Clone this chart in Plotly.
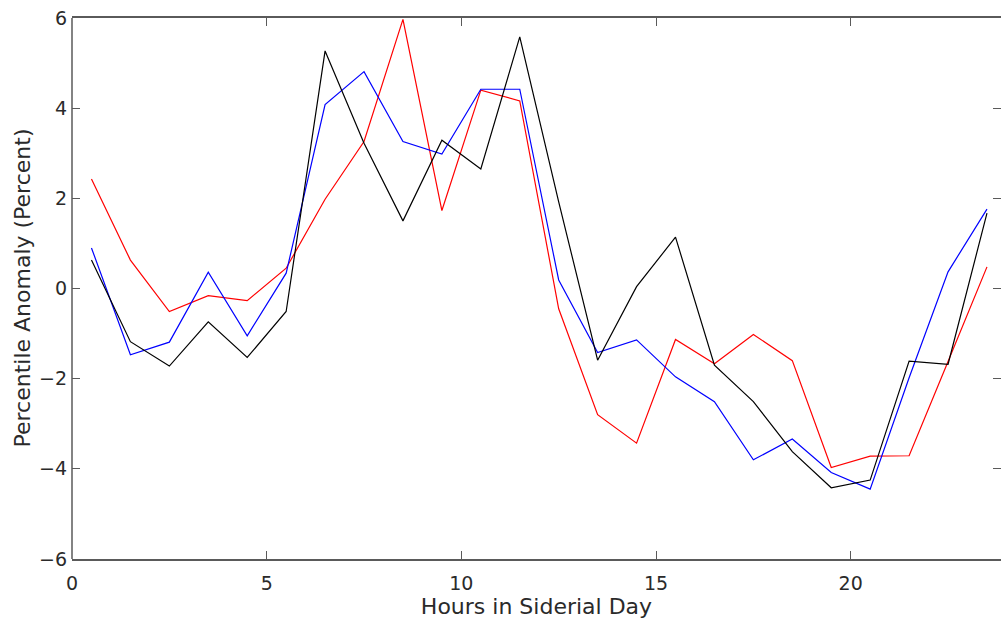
import plotly.graph_objects as go

hours = [0.5, 1.5, 2.5, 3.5, 4.5, 5.5, 6.5, 7.5, 8.5, 9.5, 10.5, 11.5,
         12.5, 13.5, 14.5, 15.5, 16.5, 17.5, 18.5, 19.5, 20.5, 21.5, 22.5, 23.5]

red_vals = [2.43, 0.63, -0.51, -0.16, -0.27, 0.45, 1.98, 3.26, 5.97, 1.73, 4.40, 4.16,
            -0.45, -2.80, -3.43, -1.13, -1.67, -1.02, -1.60, -3.97, -3.72, -3.71, -1.62, 0.48]

blue_vals = [0.90, -1.47, -1.19, 0.36, -1.05, 0.34, 4.08, 4.81, 3.26, 2.98, 4.42, 4.42,
             0.19, -1.42, -1.14, -1.96, -2.51, -3.80, -3.34, -4.08, -4.45, -1.98, 0.37, 1.76]

black_vals = [0.63, -1.18, -1.72, -0.74, -1.53, -0.51, 5.27, 3.22, 1.50, 3.29, 2.65, 5.58,
              1.92, -1.59, 0.04, 1.14, -1.70, -2.51, -3.62, -4.42, -4.25, -1.61, -1.68, 1.67]

x_ticks = [0, 5, 10, 15, 20]
y_ticks = [-6, -4, -2, 0, 2, 4, 6]
y_tick_text = ["\u22126", "\u22124", "\u22122", "0", "2", "4", "6"]

fig = go.Figure()
for vals, col in [(red_vals, "#ff0000"), (blue_vals, "#0000ff"), (black_vals, "#000000")]:
    fig.add_trace(go.Scatter(x=hours, y=vals, mode="lines",
                             line=dict(color=col, width=1.2), showlegend=False))

fam = "DejaVu Sans, Verdana, sans-serif"
tick_font = dict(family=fam, size=19, color="#2a2a2a")
title_font = dict(family=fam, size=22, color="#2a2a2a")
axis_color = "#5a5a5a"

plot_left = 72
plot_w = 1001 - plot_left

fig.update_layout(
    width=1001, height=630,
    margin=dict(l=plot_left, r=0, t=18, b=71, pad=0),
    paper_bgcolor="white", plot_bgcolor="white",
    xaxis=dict(range=[0, 23.86], tickvals=x_ticks, ticklabelstandoff=6,
               showgrid=False, zeroline=False, showline=True, linecolor=axis_color,
               linewidth=1.5, mirror="ticks", ticks="inside", ticklen=8,
               tickcolor=axis_color, tickwidth=1.2, tickfont=tick_font,
               title=dict(text="Hours in Siderial Day", font=title_font, standoff=5)),
    yaxis=dict(range=[-6, 6], tickvals=y_ticks, ticktext=y_tick_text, ticklabelstandoff=4,
               showgrid=False, zeroline=False, showline=False,
               mirror="ticks", ticks="inside", ticklen=8,
               tickcolor=axis_color, tickwidth=1.2, tickfont=tick_font),
    shapes=[dict(type="line", xref="paper", yref="paper", x0=0, x1=0, y0=0, y1=1,
                 line=dict(color=axis_color, width=1.5), layer="above")],
    annotations=[dict(text="Percentile Anomaly (Percent)", textangle=-90,
                      xref="paper", yref="paper", x=-(plot_left - 22) / plot_w, y=0.5,
                      xanchor="center", yanchor="middle", showarrow=False, font=title_font)],
)

fig.write_html("out.html")
